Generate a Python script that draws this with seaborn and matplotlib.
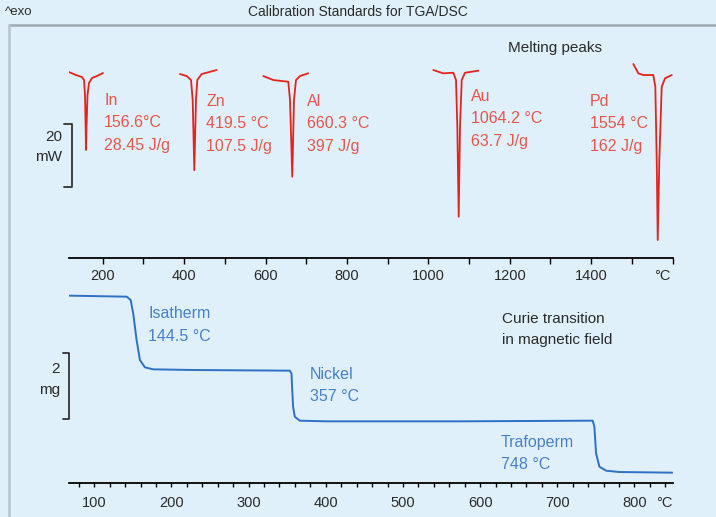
import numpy as np
import pandas as pd
import seaborn as sns
import matplotlib.pyplot as plt
from matplotlib.lines import Line2D

# --- DSC melting peaks: temperature (°C) and heat flow (mW)
in_temp = [117, 134.2, 148.9, 153.9, 156.3, 157.8, 158.8, 160.2, 162.5, 166.1, 173.5, 185.8, 200.5]
in_flow = [0.95, 0.0, -0.63, -1.59, -6.35, -15.9, -23.8, -15.9, -6.35, -2.54, -0.95, -0.32, 0.63]

zn_temp = [389.7, 406.2, 416.8, 420.9, 424.9, 429.0, 432.2, 443.0, 479.9]
zn_flow = [0.32, -0.32, -1.59, -7.94, -30.2, -7.94, -1.59, 0.32, 1.59]

al_temp = [594.4, 619.0, 655.8, 660.0, 665.6, 669.8, 674.7, 684.5, 704.9]
al_flow = [-0.32, -1.59, -2.13, -7.94, -32.3, -7.94, -1.59, -0.32, 0.54]

au_temp = [1012.1, 1036.6, 1061.2, 1067.9, 1071.1, 1074.5, 1077.7, 1081.9, 1090.0, 1122.7]
au_flow = [1.59, 0.54, 0.73, -1.59, -16.4, -45.0, -16.4, -1.59, 0.73, 1.37]

pd_temp = [1503.5, 1515.8, 1528.1, 1552.6, 1557.6, 1561.0, 1563.5, 1567.4, 1573.3, 1581.4, 1598.0]
pd_flow = [3.49, 0.54, 0.0, 0.0, -3.71, -27.0, -52.4, -27.0, -3.71, -1.05, 0.0]

peak_names = ['In', 'Zn', 'Al', 'Au', 'Pd']
peak_onsets = ['156.6°C', '419.5 °C', '660.3 °C', '1064.2 °C', '1554 °C']
peak_enthalpies = ['28.45 J/g', '107.5 J/g', '397 J/g', '63.7 J/g', '162 J/g']

# --- TGA curve of the Curie standards: temperature (°C) and mass (mg)
tga_temp = [68, 141.9, 147.1, 150.4, 154.8, 159.1, 165.6, 176.3, 227.7, 353.3, 355.5,
            357.6, 359.8, 366.2, 400.8, 573.4, 745.9, 748.1, 750.3, 754.6, 763.3, 780.1, 849]
tga_mass = [5.31, 5.28, 5.18, 4.78, 3.98, 3.38, 3.16, 3.10, 3.08, 3.06, 2.98,
            1.98, 1.68, 1.56, 1.54, 1.54, 1.56, 1.38, 0.58, 0.18, 0.06, 0.02, 0.0]

curie_names = ['Isatherm', 'Nickel', 'Trafoperm']
curie_temps = ['144.5 °C', '357 °C', '748 °C']

dsc_ticks = [200, 400, 600, 800, 1000, 1200, 1400]
tga_ticks = [100, 200, 300, 400, 500, 600, 700, 800]

BG = '#dff0fa'
RED = '#e3231c'
RED_TXT = '#e6564b'
BLUE = '#2f6fc4'
BLUE_TXT = '#4a80c8'
DARK = '#2a2a2a'

sns.set_theme(style='white')
plt.rcParams['font.family'] = ['Liberation Sans', 'DejaVu Sans']

W, H = 716, 517
fig = plt.figure(figsize=(W / 100, H / 100), dpi=100)
fig.patch.set_facecolor(BG)

ax_dsc = fig.add_axes([69 / W, 1 - 258 / H, 604 / W, (258 - 30) / H])
ax_tga = fig.add_axes([69 / W, 1 - 483 / H, 604 / W, (483 - 285) / H])

for ax in (ax_dsc, ax_tga):
    ax.set_facecolor('none')
    for s in ('left', 'right', 'top'):
        ax.spines[s].set_visible(False)
    ax.spines['bottom'].set_color('black')
    ax.spines['bottom'].set_linewidth(1.3)
    ax.set_yticks([])

# DSC peaks
peaks = [(in_temp, in_flow), (zn_temp, zn_flow), (al_temp, al_flow),
         (au_temp, au_flow), (pd_temp, pd_flow)]
for t, f in peaks:
    df = pd.DataFrame({'T': t, 'P': f})
    sns.lineplot(data=df, x='T', y='P', ax=ax_dsc, color=RED, lw=1.3,
                 sort=False, estimator=None)

ax_dsc.set_xlim(117, 1601)
ax_dsc.set_ylim(-58.1, 14.3)
ax_dsc.set_xticks(dsc_ticks)
ax_dsc.set_xticks([300, 500, 700, 900, 1100, 1300, 1500, 1600], minor=True)
ax_dsc.tick_params(axis='x', which='both', bottom=True, direction='out', length=4.5,
                   width=1, color='black', labelsize=10.5, labelcolor=DARK, pad=3.5)
ax_dsc.set_xlabel('')
ax_dsc.set_ylabel('')
ax_dsc.annotate('°C', xy=(1575, 0), xycoords=ax_dsc.get_xaxis_transform(),
                xytext=(0, -8), textcoords='offset points', ha='center', va='top',
                fontsize=10.5, color=DARK)

label_x = [203, 454, 702, 1105, 1397]
label_y = [-5.6, -6.0, -6.0, -4.4, -6.0]
for x, y, n, o, e in zip(label_x, label_y, peak_names, peak_onsets, peak_enthalpies):
    ax_dsc.text(x, y, f'{n}\n{o}\n{e}', color=RED_TXT, fontsize=11.5,
                ha='left', va='top', linespacing=1.62)

ax_dsc.text(1311, 8.6, 'Melting peaks', color=DARK, fontsize=11, ha='center', va='center')

# 20 mW scale bar
tr = ax_dsc.get_yaxis_transform()
ax_dsc.plot([-0.008, 0.005, 0.005, -0.008], [-15.6, -15.6, -35.6, -35.6], color='#333333',
            lw=1.3, transform=tr, clip_on=False)
ax_dsc.text(-0.012, -19.7, '20', transform=tr, ha='right', va='center', fontsize=11, color=DARK)
ax_dsc.text(-0.012, -26.1, 'mW', transform=tr, ha='right', va='center', fontsize=11, color=DARK)

# TGA curve
df_tga = pd.DataFrame({'T': tga_temp, 'm': tga_mass})
sns.lineplot(data=df_tga, x='T', y='m', ax=ax_tga, color=BLUE, lw=1.4,
             sort=False, estimator=None)
ax_tga.set_xlim(67.2, 850)
ax_tga.set_ylim(-0.31, 5.63)
ax_tga.set_xticks(tga_ticks)
ax_tga.set_xticks([t for t in range(80, 841, 20) if t % 100], minor=True)
ax_tga.tick_params(axis='x', which='both', bottom=True, direction='out', length=3.2,
                   width=1, color='black', labelsize=10.5, labelcolor=DARK, pad=6.5)
ax_tga.set_xlabel('')
ax_tga.set_ylabel('')
ax_tga.annotate('°C', xy=(839, 0), xycoords=ax_tga.get_xaxis_transform(),
                xytext=(0, -9.7), textcoords='offset points', ha='center', va='top',
                fontsize=10.5, color=DARK)

curie_x = [170, 379, 627]
curie_y = [4.99, 3.18, 1.13]
for x, y, n, t in zip(curie_x, curie_y, curie_names, curie_temps):
    ax_tga.text(x, y, f'{n}\n{t}', color=BLUE_TXT, fontsize=11.5, ha='left', va='top',
                linespacing=1.62)
ax_tga.text(628, 4.81, 'Curie transition\nin magnetic field', color=DARK, fontsize=11,
            ha='left', va='top', linespacing=1.62)

# 2 mg scale bar
tr = ax_tga.get_yaxis_transform()
ax_tga.plot([-0.01, 0.0005, 0.0005, -0.01], [3.6, 3.6, 1.6, 1.6], color='#333333',
            lw=1.3, transform=tr, clip_on=False)
ax_tga.text(-0.015, 3.11, '2', transform=tr, ha='right', va='center', fontsize=11, color=DARK)
ax_tga.text(-0.015, 2.48, 'mg', transform=tr, ha='right', va='center', fontsize=11, color=DARK)

# header and frame
fig.text(5 / W, 1 - 12 / H, '^exo', fontsize=9.5, color=DARK, ha='left', va='center')
fig.text(358 / W, 1 - 12 / H, 'Calibration Standards for TGA/DSC', fontsize=10,
         color=DARK, ha='center', va='center')
fig.add_artist(Line2D([9 / W, 1], [1 - 25 / H, 1 - 25 / H], color='#9ea8b0', lw=1.8))
fig.add_artist(Line2D([9 / W, 9 / W], [0, 1 - 25 / H], color='#b8c4cc', lw=1.8))

fig.savefig('out.png', dpi=100, facecolor=BG)
